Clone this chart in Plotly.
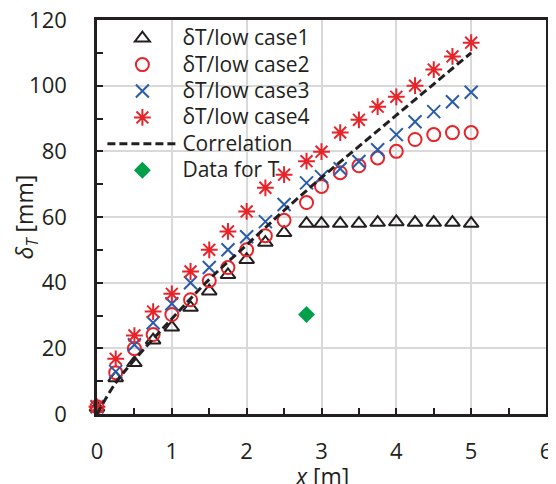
import plotly.graph_objects as go

x_pts = [0, 0.25, 0.5, 0.75, 1.0, 1.25, 1.5, 1.75, 2.0, 2.25, 2.5, 2.8, 3.0, 3.25, 3.5, 3.75, 4.0, 4.25, 4.5, 4.75, 5.0]
case1 = [2.0, 11.0, 15.6, 22.5, 26.4, 32.4, 37.4, 42.4, 47.0, 52.2, 55.2, 58.0, 58.0, 58.0, 58.0, 58.3, 58.5, 58.3, 58.3, 58.3, 58.0]
case2 = [2.2, 12.6, 19.9, 24.2, 30.3, 34.8, 40.6, 44.6, 50.0, 54.3, 59.0, 64.4, 69.3, 73.5, 75.6, 78.0, 80.0, 83.6, 85.1, 85.7, 85.7]
case3 = [2.2, 12.9, 21.1, 27.8, 33.6, 40.0, 44.6, 50.0, 54.0, 58.6, 63.8, 70.4, 72.3, 74.7, 76.9, 80.5, 85.1, 89.0, 92.1, 95.1, 98.0]
case4 = [2.2, 16.8, 23.9, 31.2, 36.6, 43.4, 50.0, 55.6, 61.7, 68.9, 72.9, 77.0, 79.9, 85.7, 89.6, 93.6, 96.6, 100.0, 104.9, 108.9, 113.1]
corr_x = [0, 0.25, 0.5, 1.0, 1.5, 2.0, 2.5, 3.0, 3.5, 4.0, 4.5, 5.0]
corr_y = [0, 9.5, 16.5, 29.0, 41.0, 51.5, 62.0, 72.0, 81.5, 91.0, 100.5, 110.0]
dataT_x = [2.8]
dataT_y = [30.3]

names = ["δT/low case1", "δT/low case2", "δT/low case3", "δT/low case4", "Correlation", "Data for T"]
x_title = "<i>x</i> [m]"
y_title = "<i>δ</i><sub><i>T</i></sub> [mm]"

BLACK = "#231f20"
RED = "#e8242b"
BLUE = "#2a5caa"
GREEN = "#00a04b"
FONT = "Open Sans"


def leg(name):
    return '<span style="font-size:21px">' + name + '</span>'


fig = go.Figure()
fig.add_trace(go.Scatter(x=x_pts, y=case1, mode="markers", name=leg(names[0]), cliponaxis=False,
                         marker=dict(symbol="triangle-up-open", size=13, color=BLACK, line=dict(width=2, color=BLACK))))
fig.add_trace(go.Scatter(x=x_pts, y=case2, mode="markers", name=leg(names[1]), cliponaxis=False,
                         marker=dict(symbol="circle-open", size=13, color=RED, line=dict(width=2, color=RED))))
fig.add_trace(go.Scatter(x=x_pts, y=case3, mode="markers", name=leg(names[2]), cliponaxis=False,
                         marker=dict(symbol="x-thin-open", size=13, color=BLUE, line=dict(width=2, color=BLUE))))
fig.add_trace(go.Scatter(x=x_pts, y=case4, mode="markers", name=leg(names[3]), cliponaxis=False,
                         marker=dict(symbol="asterisk-open", size=14, color=RED, line=dict(width=2, color=RED))))
fig.add_trace(go.Scatter(x=corr_x, y=corr_y, mode="lines", name=leg(names[4]), line_shape="spline",
                         line=dict(color=BLACK, width=3, dash="8px,4px")))
fig.add_trace(go.Scatter(x=dataT_x, y=dataT_y, mode="markers", name=leg(names[5]), cliponaxis=False,
                         marker=dict(symbol="diamond", size=13, color=GREEN)))

axis_common = dict(
    showline=True, linecolor=BLACK, linewidth=2.5, mirror=True,
    showgrid=True, gridcolor="#d9d9d9", gridwidth=2,
    zeroline=False, automargin=False, ticklabeloverflow="allow",
    ticks="inside", ticklen=6, tickwidth=2, tickcolor=BLACK,
    tickfont=dict(family=FONT, size=22, color=BLACK),
)

fig.update_xaxes(range=[0, 6], dtick=1, tick0=0,
                 minor=dict(ticks="inside", dtick=0.5, ticklen=6, tickwidth=2, tickcolor=BLACK, showgrid=False),
                 ticklabelstandoff=16,
                 **axis_common)
fig.update_yaxes(range=[0, 120], dtick=20, tick0=0,
                 minor=dict(ticks="inside", dtick=10, ticklen=6, tickwidth=2, tickcolor=BLACK, showgrid=False),
                 title=dict(text=y_title, font=dict(family=FONT, size=23, color=BLACK), standoff=2),
                 ticklabelstandoff=23,
                 **axis_common)

# x-axis title placed as paper-referenced text just below the tick labels
fig.add_annotation(text=x_title, xref="paper", yref="paper", x=0.5, y=-0.157,
                   xanchor="center", yanchor="middle", showarrow=False,
                   font=dict(family=FONT, size=23, color=BLACK))

# page body has an 8px default margin, so the figure is sized/offset to compensate
fig.update_layout(
    width=548, height=476,
    margin=dict(l=89, r=10, t=12, b=70),
    plot_bgcolor="white", paper_bgcolor="white",
    font=dict(family=FONT, color=BLACK),
    legend=dict(x=0.012, y=1.0, xanchor="left", yanchor="top",
                bgcolor="rgba(0,0,0,0)", borderwidth=0,
                itemwidth=70,
                font=dict(family=FONT, size=18, color=BLACK)),
)

fig.write_html("out.html")
